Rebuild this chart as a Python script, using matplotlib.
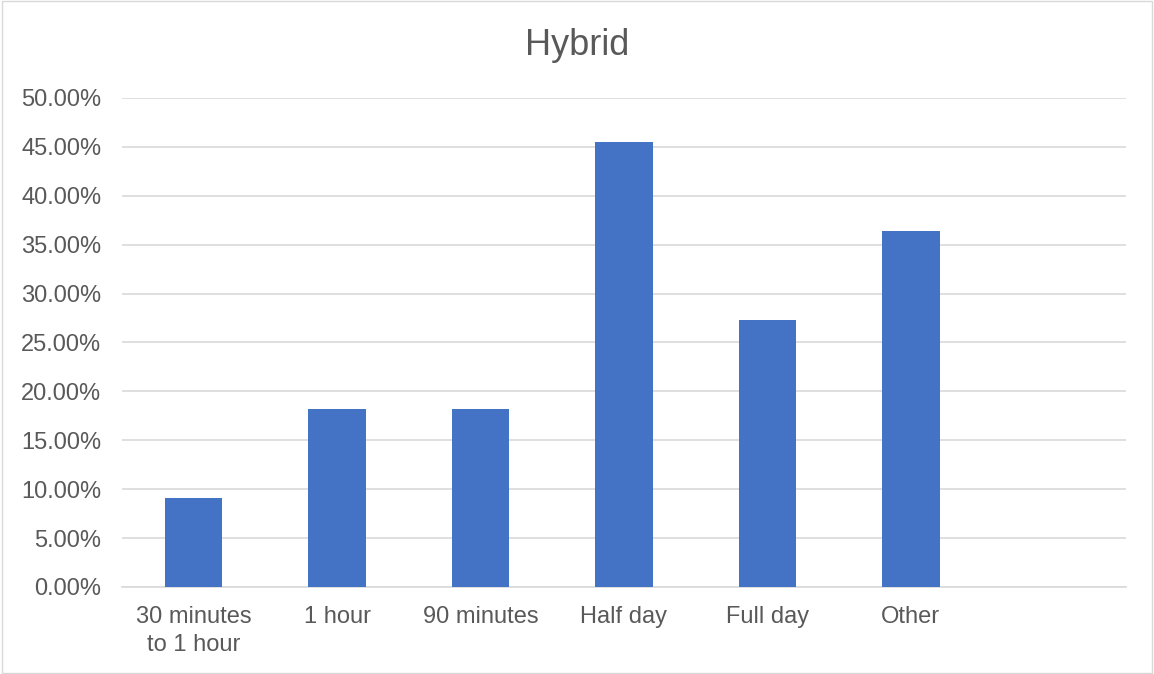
import matplotlib.pyplot as plt
from matplotlib.patches import Rectangle
from matplotlib.ticker import FuncFormatter, MultipleLocator

categories = ['30 minutes\nto 1 hour', '1 hour', '90 minutes', 'Half day', 'Full day', 'Other', '']
values = [9.09, 18.18, 18.18, 45.45, 27.27, 36.36, 0]

plt.rcParams['font.family'] = ['Liberation Sans', 'DejaVu Sans']
text_color = '#595959'

fig = plt.figure(figsize=(11.54, 6.74), dpi=100)
ax = fig.add_axes([0.1057, 0.1291, 0.8700, 0.7255])

x = range(len(categories))
ax.bar(x, values, width=0.40, color='#4472C4', zorder=3)

ax.set_xlim(-0.5, len(categories) - 0.5)
ax.set_ylim(0, 50)
ax.yaxis.set_major_locator(MultipleLocator(5))
ax.yaxis.set_major_formatter(FuncFormatter(lambda v, p: f'{v:.2f}%'))
ax.grid(axis='y', color='#D9D9D9', linewidth=1.2, zorder=0)

ax.set_xticks(list(x))
ax.set_xticklabels(categories, fontsize=17, color=text_color, linespacing=1.3)
ax.tick_params(axis='y', labelsize=17, labelcolor=text_color, length=0, pad=15)
ax.tick_params(axis='x', length=0, pad=14)

for side in ['top', 'right', 'left']:
    ax.spines[side].set_visible(False)
ax.spines['bottom'].set_color('#D9D9D9')
ax.spines['bottom'].set_linewidth(1.2)

fig.text(0.5, 0.932, 'Hybrid', ha='center', va='center', fontsize=26, color=text_color)

# thin border around the chart area
fig.patches.append(Rectangle((0.002, 0.002), 0.996, 0.996, transform=fig.transFigure,
                             fill=False, edgecolor='#D9D9D9', linewidth=1))

fig.savefig('out.png', dpi=100)
